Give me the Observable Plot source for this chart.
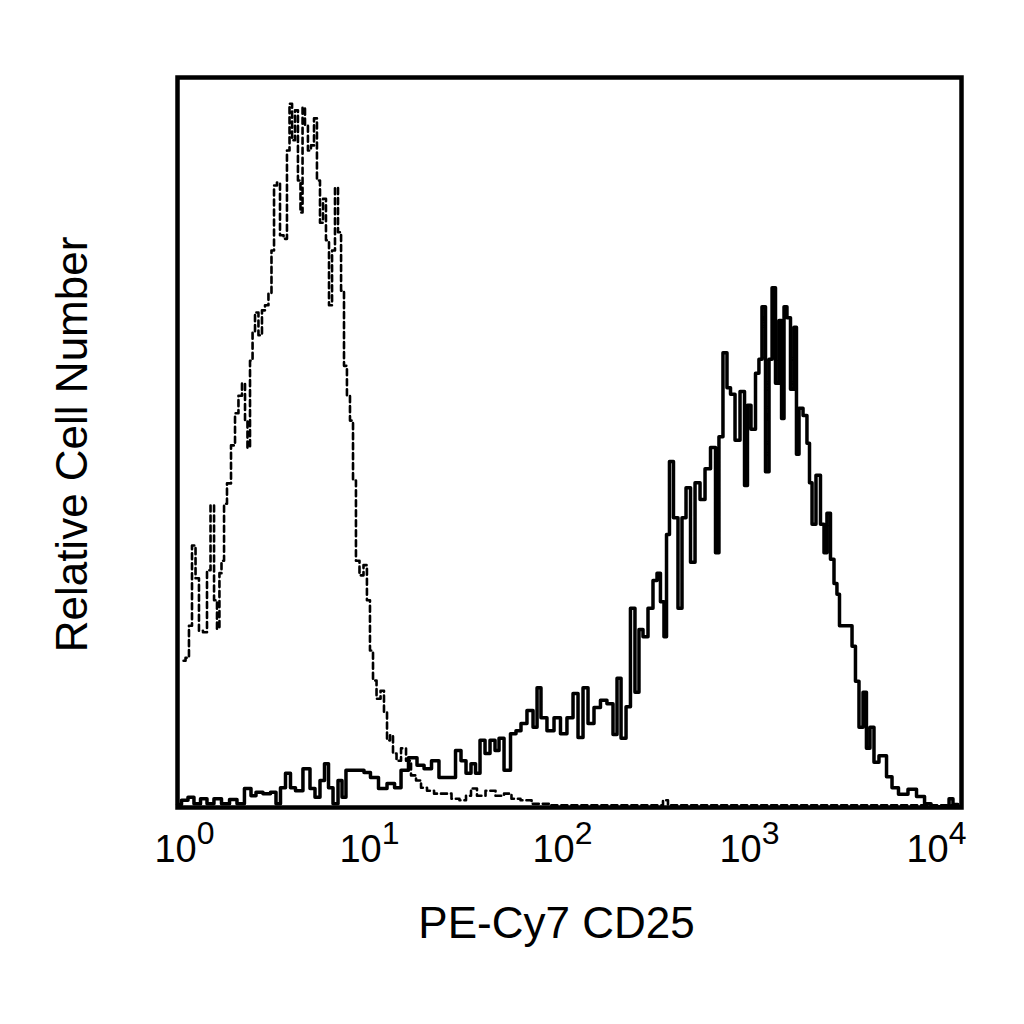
<!DOCTYPE html>
<html>
<head>
<meta charset="utf-8">
<script src="https://cdn.jsdelivr.net/npm/d3@7"></script>
<script src="https://cdn.jsdelivr.net/npm/@observablehq/plot@0.6"></script>
<style>
  html, body { margin: 0; padding: 0; background: #fff; }
  #chart svg { display: block; font-family: "Liberation Sans", Arial, sans-serif; }
</style>
</head>
<body>
<div id="chart"></div>
<script>
// ---- Data (fluorescence as log10 decades, counts as relative cell number, % of full scale) ----
const xTicks = [1, 10, 100, 1000, 10000];
const xLabel = "PE-Cy7 CD25";
const yLabel = "Relative Cell Number";

// Isotype control (dashed histogram)
const isotypeLog = [0.031,0.051,0.066,0.082,0.102,0.117,0.143,0.158,0.179,0.194,0.209,0.219,0.230,0.245,0.260,0.286,0.301,0.321,0.337,0.352,0.362,0.378,0.388,0.403,0.423,0.439,0.454,0.474,0.485,0.500,0.515,0.531,0.551,0.566,0.577,0.592,0.607,0.622,0.633,0.643,0.658,0.673,0.689,0.704,0.719,0.735,0.750,0.765,0.781,0.796,0.811,0.827,0.842,0.857,0.872,0.888,0.903,0.918,0.939,0.959,0.974,0.990,1.005,1.026,1.046,1.061,1.077,1.092,1.107,1.128,1.153,1.179,1.204,1.230,1.255,1.291,1.327,1.378,1.418,1.459,1.485,1.510,1.546,1.597,1.648,1.684,1.724,1.776,1.837,1.954,2.158,2.464,2.490,2.515,4.000];
const isotypeCount = [20.1,20.5,24.9,35.9,31.4,24.2,24.0,32.5,41.4,28.4,24.5,32.1,33.8,41.6,44.4,49.6,54.0,56.4,58.1,53.0,49.3,61.2,65.1,67.8,64.7,68.1,68.8,70.5,76.3,85.2,85.6,78.4,77.9,90.0,96.4,91.4,95.5,85.9,81.5,95.9,93.4,90.0,90.7,94.4,85.9,80.1,83.4,77.7,68.8,76.3,84.9,78.8,70.8,60.5,56.4,53.0,44.8,33.8,31.8,33.2,28.4,21.5,17.4,14.9,16.0,13.0,9.2,9.9,7.4,6.4,8.1,6.4,4.4,3.7,2.7,2.3,1.9,1.9,1.2,1.0,1.6,2.6,1.6,2.3,1.6,1.9,1.2,1.0,0.5,0.3,0.3,0.3,1.0,0.3,0.3];

// Anti-CD25 stained (solid histogram)
const cd25Log = [0.000,0.041,0.066,0.102,0.133,0.168,0.204,0.245,0.286,0.321,0.362,0.388,0.413,0.459,0.490,0.515,0.536,0.566,0.587,0.617,0.663,0.689,0.714,0.740,0.760,0.781,0.806,0.832,0.847,0.872,0.934,0.969,1.000,1.051,1.087,1.128,1.153,1.204,1.240,1.276,1.316,1.352,1.403,1.434,1.459,1.485,1.510,1.531,1.556,1.582,1.607,1.633,1.648,1.684,1.714,1.740,1.765,1.801,1.827,1.842,1.867,1.903,1.939,1.969,2.005,2.031,2.056,2.082,2.107,2.143,2.173,2.209,2.235,2.250,2.276,2.301,2.321,2.347,2.362,2.388,2.413,2.439,2.454,2.474,2.490,2.500,2.520,2.541,2.566,2.582,2.607,2.628,2.653,2.679,2.704,2.735,2.755,2.770,2.796,2.811,2.832,2.857,2.883,2.903,2.913,2.939,2.959,2.974,2.990,3.010,3.026,3.041,3.061,3.077,3.087,3.102,3.117,3.138,3.153,3.163,3.179,3.204,3.219,3.230,3.245,3.270,3.291,3.306,3.321,3.342,3.357,3.372,3.383,3.434,3.449,3.469,3.485,3.510,3.520,3.546,3.561,3.597,3.638,3.653,3.704,3.750,3.791,3.832,3.857,3.929,3.944,3.969,3.995];
const cd25Count = [0.4,1.0,1.4,0.5,1.2,0.5,1.2,0.5,1.1,0.5,2.6,1.6,2.1,1.9,2.1,0.5,2.7,4.7,2.7,2.3,5.3,2.6,1.4,3.7,6.0,2.7,0.5,3.7,1.4,5.1,5.1,4.8,4.1,2.6,3.3,2.7,5.1,6.8,5.8,5.3,6.4,4.1,4.1,7.8,6.4,4.7,6.0,4.7,9.2,7.4,9.2,7.8,9.5,5.1,10.1,10.5,11.5,13.3,11.0,16.4,12.3,10.5,12.3,10.1,12.3,15.6,9.6,16.4,11.5,13.7,14.7,14.2,10.0,17.7,9.5,13.8,27.3,15.8,24.4,23.4,27.3,31.1,32.1,28.2,23.4,37.4,47.4,39.7,27.3,39.7,43.8,33.6,44.5,42.2,46.4,49.3,34.9,50.8,62.3,57.5,56.6,50.3,57.0,44.1,55.1,51.8,59.5,61.4,68.6,46.0,61.4,71.2,58.1,66.7,53.3,68.6,67.1,57.3,65.8,48.4,54.7,53.7,49.9,44.5,38.8,45.5,38.8,34.9,40.3,34.0,30.7,29.2,24.9,24.9,22.1,17.3,11.0,15.8,8.1,11.0,6.2,7.1,4.2,2.7,1.8,2.5,1.5,0.5,0.1,0.1,1.2,0.4,0.1];

// ---- Build tables ----
const isotype = isotypeLog.map((l, i) => ({x: 10 ** l, y: isotypeCount[i]}));
const cd25 = cd25Log.map((l, i) => ({x: 10 ** l, y: cd25Count[i]}));

const FONT = "Liberation Sans, Arial, sans-serif";

const chart = Plot.plot({
  width: 1024,
  height: 1024,
  marginLeft: 177,
  marginRight: 63,
  marginTop: 77,
  marginBottom: 217,
  style: {fontFamily: FONT, background: "#fff", color: "#000"},
  x: {type: "log", domain: [1, 10000]},
  y: {domain: [0, 100], axis: null},
  marks: [
    Plot.line(isotype, {x: "x", y: "y", curve: "step", stroke: "#000", strokeWidth: 2.6, strokeDasharray: "6,4"}),
    Plot.line(cd25, {x: "x", y: "y", curve: "step", stroke: "#000", strokeWidth: 3.5}),
    Plot.frame({stroke: "#000", strokeWidth: 4.5}),
    Plot.axisX({ticks: xTicks, tickSize: 0, tickPadding: 28, fontSize: 38, label: null,
      tickFormat: d => String(Math.round(Math.log10(d)))}),
    Plot.text([xLabel], {frameAnchor: "bottom", lineAnchor: "top", textAnchor: "middle", dy: 99, dx: -13, fontSize: 44, fontFamily: FONT, fill: "#000"}),
    Plot.text([yLabel], {frameAnchor: "left", rotate: -90, lineAnchor: "top", textAnchor: "middle", dx: -122, dy: 2, fontSize: 44, fontFamily: FONT, fill: "#000"})
  ]
});

// Render tick labels as 10 with superscript exponent
const labelShift = [7, -4, -7, -16, -25];
chart.querySelectorAll('g[aria-label="x-axis tick label"] text').forEach((t, i) => {
  const exp = t.textContent;
  t.textContent = "";
  const base = document.createElementNS("http://www.w3.org/2000/svg", "tspan");
  base.textContent = "10";
  const sup = document.createElementNS("http://www.w3.org/2000/svg", "tspan");
  sup.textContent = exp;
  sup.setAttribute("font-size", "32");
  sup.setAttribute("dy", "-18");
  t.appendChild(base);
  t.appendChild(sup);
  t.setAttribute("fill", "#000");
  const tr = t.getAttribute("transform") || "";
  t.setAttribute("transform", tr + ` translate(${labelShift[i] || 0},0)`);
});

document.getElementById("chart").appendChild(chart);
</script>
</body>
</html>
